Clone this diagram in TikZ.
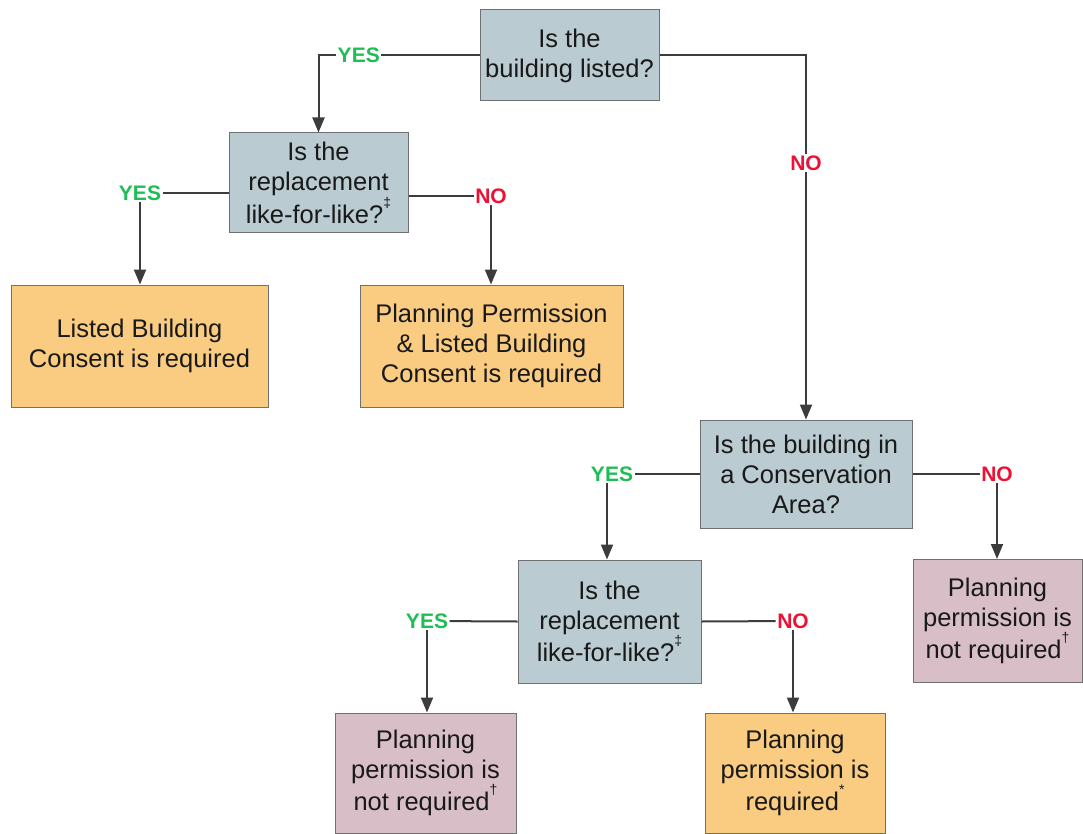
\documentclass[tikz,border=0pt]{standalone}
\usepackage{fontspec}
\setmainfont{Liberation Sans}
\usetikzlibrary{arrows.meta}
\definecolor{qbox}{HTML}{BACBD1}
\definecolor{obox}{HTML}{F9CC82}
\definecolor{pbox}{HTML}{D8BFC7}
\definecolor{bordc}{HTML}{707070}
\definecolor{linec}{HTML}{3C3C3C}
\definecolor{yesc}{HTML}{1EBE55}
\definecolor{noc}{HTML}{EC1235}
\tikzset{
  basebox/.style={draw=bordc, line width=1pt, align=center, inner sep=2pt,
    font=\fontsize{25.5}{30}\selectfont, text=black!90},
  qnode/.style={basebox, fill=qbox},
  onode/.style={basebox, fill=obox},
  pnode/.style={basebox, fill=pbox},
  yeslab/.style={font=\fontsize{21}{23}\selectfont\bfseries, text=yesc, fill=white, inner sep=1.5pt},
  nolab/.style={font=\fontsize{21}{23}\selectfont\bfseries, text=noc, fill=white, inner sep=1.5pt},
  conn/.style={draw=linec, line width=2pt},
  arr/.style={conn, -{Triangle[length=15pt,width=12pt]}}
}
\newcommand{\supmark}[1]{\raisebox{1.2ex}{\fontsize{14}{14}\selectfont #1}}
\begin{document}
\begin{tikzpicture}[x=1pt,y=-1pt]
\useasboundingbox (0,0) rectangle (1083,834);
% boxes
\node[qnode, minimum width=179pt, minimum height=91pt] (A) at (569.5,55.5) {Is the\\building listed?};
\node[qnode, minimum width=179pt, minimum height=100pt] (B) at (318.5,183) {Is the\\replacement\\like-for-like?\supmark{‡}};
\node[onode, minimum width=257pt, minimum height=122pt] (C) at (139.5,346) {Listed Building\\Consent is required};
\node[onode, minimum width=263pt, minimum height=122pt] (E) at (491.5,346) {Planning Permission\\\& Listed Building\\Consent is required};
\node[qnode, minimum width=212pt, minimum height=108pt] (D) at (806,474) {Is the building in\\a Conservation\\Area?};
\node[qnode, minimum width=183pt, minimum height=123pt] (F) at (609.5,621.5) {Is the\\replacement\\like-for-like?\supmark{‡}};
\node[pnode, minimum width=169pt, minimum height=123pt] (G) at (997.5,621) {Planning\\permission is\\not required\supmark{†}};
\node[pnode, minimum width=181pt, minimum height=120pt] (H) at (425.5,773) {Planning\\permission is\\not required\supmark{†}};
\node[onode, minimum width=180pt, minimum height=120pt] (I) at (795,773) {Planning\\permission is\\required\supmark{*}};
% labels
\node[yeslab] (y2) at (140,193) {YES};
\node[nolab] (n2) at (491,196) {NO};
\node[yeslab] (y3) at (612,474) {YES};
\node[nolab] (n3) at (997,474) {NO};
\node[yeslab] (y4) at (427,621) {YES};
\node[nolab] (n4) at (793,621) {NO};
% connectors
\draw[arr] (A.west) -| node[yeslab, pos=0.375] (y1) {YES} (B.north);
\draw[arr] (A.east) -| node[nolab, pos=0.648] (n1) {NO} (D.north);
\draw[conn] (B.west |- y2) -- (y2);
\draw[arr] (y2) -- (y2 |- C.north);
\draw[conn] (B.east |- n2) -- (n2);
\draw[arr] (n2) -- (n2 |- E.north);
\draw[conn] (D.west) -- (y3);
\draw[arr] (y3.south -| 607,0) -- (607,0 |- F.north);
\draw[conn] (D.east) -- (n3);
\draw[arr] (n3) -- (n3 |- G.north);
\draw[conn] (F.west) -- (y4);
\draw[arr] (y4) -- (y4 |- H.north);
\draw[conn] (F.east) -- (n4);
\draw[arr] (n4) -- (n4 |- I.north);
\end{tikzpicture}
\end{document}
